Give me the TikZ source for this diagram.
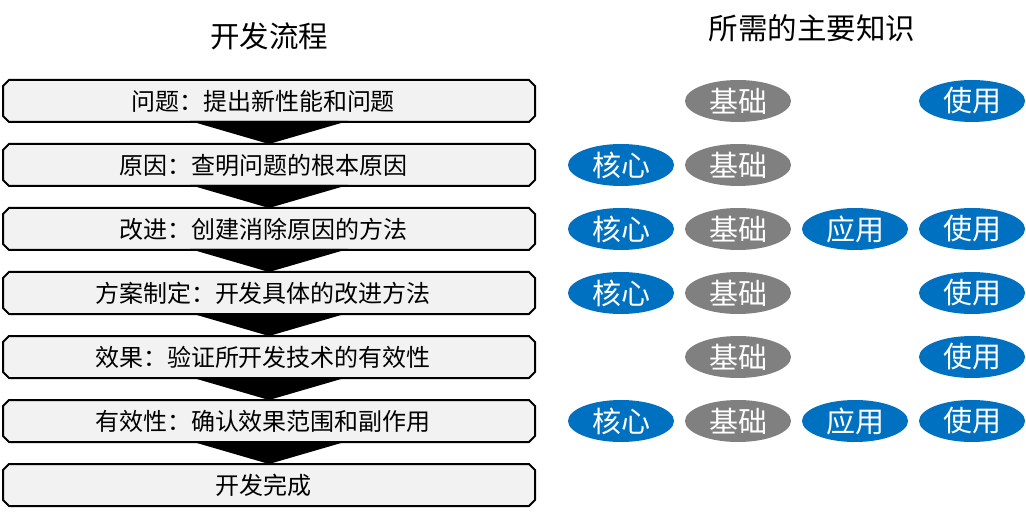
\documentclass[tikz,border=0pt]{standalone}
\usepackage{fontspec}
\setmainfont{Noto Sans CJK SC}
\usetikzlibrary{shapes.geometric}
\definecolor{kblue}{HTML}{0070C0}
\definecolor{kgray}{HTML}{808080}
\definecolor{boxfill}{HTML}{F2F2F2}
\tikzset{
  stepbox/.style={rectangle, minimum width=532pt, minimum height=42pt,
    inner sep=0pt, outer sep=0pt, font=\fontsize{24}{27}\selectfont, text=black},
  boxline/.style={draw=black, line width=2pt, fill=boxfill, line join=miter},
  chevron/.style={fill=black, draw=none},
  knode/.style={ellipse, minimum width=106pt, minimum height=42pt, inner sep=0pt,
    text=white, font=\fontsize{29}{32}\selectfont},
  kb/.style={knode, fill=kblue},
  kg/.style={knode, fill=kgray},
  head/.style={font=\fontsize{29.5}{33}\selectfont, inner sep=0pt}
}
\begin{document}
\begin{tikzpicture}[x=1pt,y=-1pt]
\useasboundingbox (0,0) rectangle (1026,513);
\node[head] (h1) at (269,36) {开发流程};
\node[head] (h2) at (812,28) {所需的主要知识};
\foreach \i/\t in {1/问题：提出新性能和问题,2/原因：查明问题的根本原因,3/改进：创建消除原因的方法,4/方案制定：开发具体的改进方法,5/效果：验证所开发技术的有效性,6/有效性：确认效果范围和副作用,7/开发完成}{
  \node[stepbox] (b\i) at (269,{101+64*(\i-1)}) {};
  \path[boxline] ([xshift=6pt]b\i.north west) -- ([xshift=-6pt]b\i.north east)
     -- ([yshift=-6pt]b\i.north east) -- ([yshift=6pt]b\i.south east)
     -- ([xshift=-6pt]b\i.south east) -- ([xshift=6pt]b\i.south west)
     -- ([yshift=6pt]b\i.south west) -- ([yshift=-6pt]b\i.north west) -- cycle;
  \node[stepbox, minimum width=0pt] (t\i) at ([xshift=-6pt]b\i.center) {\t};
}
\foreach \i/\j in {1/2,2/3,3/4,4/5,5/6,6/7}{
  \fill[chevron] ([xshift=-79pt,yshift=1pt]b\i.south) -- ([xshift=79pt,yshift=1pt]b\i.south) -- (b\j.north) -- cycle;
}
% knowledge ellipses
\node[kg] (r1b) at (738,101) {基础};
\node[kb] (r1s) at (972,101) {使用};
\node[kb] (r2c) at (621,165) {核心};
\node[kg] (r2b) at (738,165) {基础};
\node[kb] (r3c) at (621,229) {核心};
\node[kg] (r3b) at (738,229) {基础};
\node[kb] (r3a) at (855,229) {应用};
\node[kb] (r3s) at (972,229) {使用};
\node[kb] (r4c) at (621,293) {核心};
\node[kg] (r4b) at (738,293) {基础};
\node[kb] (r4s) at (972,293) {使用};
\node[kg] (r5b) at (738,357) {基础};
\node[kb] (r5s) at (972,357) {使用};
\node[kb] (r6c) at (621,421) {核心};
\node[kg] (r6b) at (738,421) {基础};
\node[kb] (r6a) at (855,421) {应用};
\node[kb] (r6s) at (972,421) {使用};
\end{tikzpicture}
\end{document}
